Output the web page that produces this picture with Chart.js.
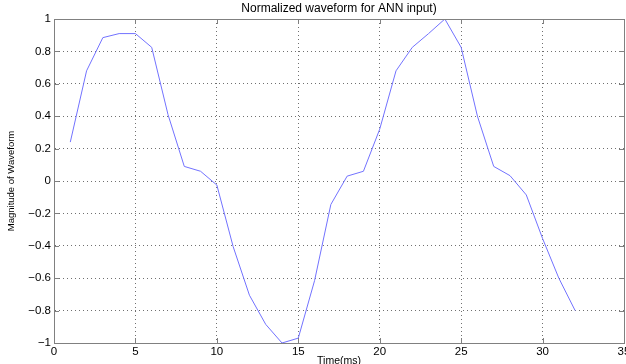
<!DOCTYPE html>
<html>
<head>
<meta charset="utf-8">
<title>Normalized waveform for ANN input</title>
<script src="https://cdn.jsdelivr.net/npm/chart.js@4.4.0/dist/chart.umd.min.js"></script>
<style>
  html, body { margin: 0; padding: 0; background: #fff; }
</style>
</head>
<body>
<canvas id="waveChart" width="626" height="364"></canvas>
<script>
const timeMs = [1, 2, 3, 4, 5, 6, 7, 8, 9, 10, 11, 12, 13, 14, 15, 16,
                17, 18, 19, 20, 21, 22, 23, 24, 25, 26, 27, 28, 29, 30, 31, 32];
const magnitude = [0.24, 0.68, 0.885, 0.91, 0.91, 0.825, 0.41, 0.09, 0.06, -0.025, -0.405, -0.705,
                   -0.885, -1.0, -0.97, -0.615, -0.145, 0.03, 0.06, 0.32, 0.68, 0.825, 0.91, 1.0,
                   0.825, 0.4, 0.09, 0.033, -0.086, -0.355, -0.6, -0.8];
const xTicks = [0, 5, 10, 15, 20, 25, 30, 35];
const yTicks = [-1, -0.8, -0.6, -0.4, -0.2, 0, 0.2, 0.4, 0.6, 0.8, 1];

const fontFamily = '"Liberation Sans", Arial, Helvetica, sans-serif';
const axisColor = '#808080';
const gridColor = '#707070';
const lineColor = '#7272ff';

function fmtTick(v) {
  const s = String(Math.round(v * 10) / 10);
  return s.replace('-', '\u2212');
}

// box around the axes plus short inward ticks on all four sides
const axesBox = {
  id: 'axesBox',
  afterDatasetsDraw(chart) {
    const { ctx, chartArea: a, scales } = chart;
    const len = 5;
    ctx.save();
    ctx.strokeStyle = axisColor;
    ctx.lineWidth = 1;
    ctx.beginPath();
    xTicks.forEach(v => {
      const px = Math.round(scales.x.getPixelForValue(v)) + 0.5;
      ctx.moveTo(px, a.bottom); ctx.lineTo(px, a.bottom - len);
      ctx.moveTo(px, a.top); ctx.lineTo(px, a.top + len);
    });
    yTicks.forEach(v => {
      const py = Math.round(scales.y.getPixelForValue(v)) + 0.5;
      ctx.moveTo(a.left, py); ctx.lineTo(a.left + len, py);
      ctx.moveTo(a.right, py); ctx.lineTo(a.right - len, py);
    });
    ctx.stroke();
    ctx.strokeRect(Math.round(a.left) + 0.5, Math.round(a.top) + 0.5,
                   Math.round(a.right - a.left), Math.round(a.bottom - a.top));
    ctx.restore();
  }
};

new Chart(document.getElementById('waveChart'), {
  type: 'line',
  data: {
    datasets: [{
      data: timeMs.map((t, i) => ({ x: t, y: magnitude[i] })),
      borderColor: lineColor,
      borderWidth: 1,
      pointRadius: 0,
      tension: 0,
      fill: false
    }]
  },
  options: {
    responsive: false,
    devicePixelRatio: 1,
    animation: false,
    layout: { padding: { left: 0, right: 2, top: 0, bottom: 0 } },
    plugins: {
      legend: { display: false },
      tooltip: { enabled: false },
      title: {
        display: true,
        fullSize: false,
        text: 'Normalized waveform for ANN input)',
        color: '#000',
        font: { family: fontFamily, size: 12, weight: 'normal' },
        padding: { top: 1, bottom: 3.6 }
      }
    },
    scales: {
      x: {
        type: 'linear',
        min: 0,
        max: 35,
        afterBuildTicks: s => { s.ticks = xTicks.map(v => ({ value: v })); },
        afterFit: s => { s.height = 21; s.paddingLeft = 0; s.paddingRight = 0; },
        ticks: {
          color: '#000',
          font: { family: fontFamily, size: 11.5 },
          padding: 2,
          maxRotation: 0,
          autoSkip: false,
          callback: v => fmtTick(v)
        },
        grid: { color: gridColor, lineWidth: 1, drawTicks: false },
        border: { display: true, color: axisColor, dash: [1, 3] },
        title: {
          display: true,
          text: 'Time(ms)',
          color: '#000',
          font: { family: fontFamily, size: 10.5 },
          padding: { top: 0, bottom: -3 }
        }
      },
      y: {
        min: -1,
        max: 1,
        afterBuildTicks: s => { s.ticks = yTicks.map(v => ({ value: v })); },
        afterFit: s => { s.width = 54; s.paddingTop = 0; s.paddingBottom = 0; },
        ticks: {
          color: '#000',
          font: { family: fontFamily, size: 11.5 },
          padding: 3,
          autoSkip: false,
          callback: v => fmtTick(v)
        },
        grid: { color: gridColor, lineWidth: 1, drawTicks: false },
        border: { display: true, color: axisColor, dash: [1, 3] },
        title: {
          display: true,
          text: 'Magnitude of Waveform',
          color: '#000',
          font: { family: fontFamily, size: 9.5 },
          padding: { top: 6, bottom: 0 }
        }
      }
    }
  },
  plugins: [axesBox]
});
</script>
</body>
</html>
